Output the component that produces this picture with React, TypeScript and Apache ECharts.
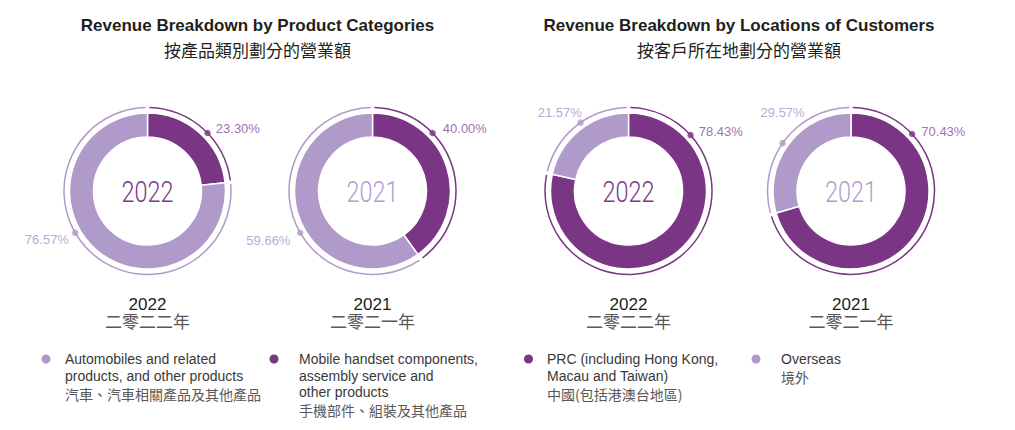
import React, { useEffect, useRef } from "react";
import * as echarts from "echarts";

// ---------- data ----------
const productCategories = [
  "Mobile handset components, assembly service and other products",
  "Automobiles and related products, and other products",
];
const productShare2022 = [23.3, 76.57];
const productShare2021 = [40.0, 59.66];

const locationCategories = ["PRC (including Hong Kong, Macau and Taiwan)", "Overseas"];
const locationShare2022 = [78.43, 21.57];
const locationShare2021 = [70.43, 29.57];

const yearLabels = ["2022", "2021"];
const yearLabelsZh = ["二零二二年", "二零二一年"];

const chartTitles = [
  "Revenue Breakdown by Product Categories",
  "Revenue Breakdown by Locations of Customers",
];
const chartTitlesZh = ["按產品類別劃分的營業額", "按客戶所在地劃分的營業額"];

const legendEnLines = [
  ["Automobiles and related", "products, and other products"],
  ["Mobile handset components,", "assembly service and", "other products"],
  ["PRC (including Hong Kong,", "Macau and Taiwan)"],
  ["Overseas"],
];
const legendZh = ["汽車、汽車相關產品及其他產品", "手機部件、組裝及其他產品", "中國(包括港澳台地區)", "境外"];

// ---------- layout / style ----------
const EN = "'Liberation Sans', Arial, Helvetica, sans-serif";
const ZH = "'Noto Sans CJK TC', 'Noto Sans CJK SC', sans-serif";
const DARK = "#7a3584";
const LIGHT = "#b09ac9";
const SEG_COLORS = [DARK, LIGHT];
const LABEL_COLORS = ["#87489a", "#a98fc8"];
const TEXT_DARK = "#231f20";
const TEXT_GREY = "#5a5758";

const CENTERS: [number, number][] = [
  [147.5, 191],
  [372.5, 191],
  [628.5, 191],
  [851, 191],
];
const R_INNER = 54;
const R_OUTER = 78;
const R_THIN = 83.5;

const donuts = [
  { shares: productShare2022, cats: productCategories, year: 0 },
  { shares: productShare2021, cats: productCategories, year: 1 },
  { shares: locationShare2022, cats: locationCategories, year: 0 },
  { shares: locationShare2021, cats: locationCategories, year: 1 },
];

// angle (deg, clockwise from 12 o'clock) where each percentage marker sits
const LABEL_ANCHORS = [
  [46, 240],
  [46, 240],
  [48, 325],
  [47, 305],
];
const LABEL_PLACES: any[][] = [
  [
    { position: "right", distance: 5, offset: [0, -4.5] },
    { position: "left", distance: 3, offset: [0, 7] },
  ],
  [
    { position: "right", distance: 7, offset: [0, -4] },
    { position: "left", distance: 6.5, offset: [0, 8] },
  ],
  [
    { position: "right", distance: 5, offset: [0, -3.5] },
    { position: "left", distance: 0, offset: [4.5, -10] },
  ],
  [
    { position: "right", distance: 6, offset: [0, -2.5] },
    { position: "inside", distance: 0, offset: [0, -30.4] },
  ],
];
const CENTER_YEAR_COLORS = ["#7b3889", "#b29dcf"];
const TITLE_X = [257.5, 739];
const LEGEND_POS = [
  { cx: 46, tx: 65, color: LIGHT },
  { cx: 274, tx: 299, color: DARK },
  { cx: 528.5, tx: 547, color: DARK },
  { cx: 756, tx: 781, color: LIGHT },
];

function buildOption() {
  const series: any[] = [];
  const polar: any[] = [];
  const angleAxis: any[] = [];
  const radiusAxis: any[] = [];
  const graphic: any[] = [];

  donuts.forEach((d, i) => {
    const center = CENTERS[i];
    const pieData = d.shares.map((v, k) => ({
      name: d.cats[k],
      value: v,
      itemStyle: { color: SEG_COLORS[k] },
    }));
    series.push({
      type: "pie",
      center,
      radius: [R_INNER, R_OUTER],
      startAngle: 90,
      clockwise: true,
      silent: true,
      label: { show: false },
      labelLine: { show: false },
      itemStyle: { borderColor: "#ffffff", borderWidth: 1.5 },
      emphasis: { disabled: true },
      data: pieData,
    });
    series.push({
      type: "pie",
      center,
      radius: [R_THIN - 0.75, R_THIN + 0.75],
      startAngle: 90,
      clockwise: true,
      padAngle: 2.5,
      silent: true,
      label: { show: false },
      labelLine: { show: false },
      emphasis: { disabled: true },
      data: pieData,
    });

    polar.push({ center, radius: R_THIN });
    angleAxis.push({
      type: "value",
      polarIndex: i,
      min: 0,
      max: 360,
      startAngle: 90,
      clockwise: true,
      show: false,
      axisLine: { show: false },
      axisTick: { show: false },
      axisLabel: { show: false },
      splitLine: { show: false },
    });
    radiusAxis.push({
      type: "value",
      polarIndex: i,
      min: 0,
      max: R_THIN,
      show: false,
      axisLine: { show: false },
      axisTick: { show: false },
      axisLabel: { show: false },
      splitLine: { show: false },
    });
    series.push({
      type: "scatter",
      coordinateSystem: "polar",
      polarIndex: i,
      symbol: "circle",
      symbolSize: 6.5,
      silent: true,
      emphasis: { disabled: true },
      data: d.shares.map((v, k) => ({
        value: [R_THIN, LABEL_ANCHORS[i][k]],
        itemStyle: { color: SEG_COLORS[k] },
        label: {
          show: true,
          formatter: v.toFixed(2) + "%",
          color: LABEL_COLORS[k],
          fontSize: 13,
          fontFamily: EN,
          ...LABEL_PLACES[i][k],
        },
      })),
    });

    // center year
    graphic.push({
      type: "text",
      x: center[0],
      y: center[1] + 1,
      scaleX: 0.78,
      silent: true,
      style: {
        text: yearLabels[d.year],
        fill: CENTER_YEAR_COLORS[d.year],
        font: `300 30px Roboto, 'Liberation Sans', sans-serif`,
        textAlign: "center",
        align: "center",
        textVerticalAlign: "middle",
        verticalAlign: "middle",
      },
    });
    // year caption below (two lines in one text)
    graphic.push({
      type: "text",
      x: center[0],
      y: 296.2,
      silent: true,
      style: {
        text: `{en|${yearLabels[d.year]}}\n{zh|${yearLabelsZh[d.year]}}`,
        textAlign: "center",
        align: "center",
        textVerticalAlign: "top",
        verticalAlign: "top",
        rich: {
          en: { fontSize: 17, fontFamily: EN, fill: TEXT_DARK, color: TEXT_DARK, lineHeight: 16.5, align: "center" },
          zh: { fontSize: 17, fontFamily: ZH, fill: TEXT_GREY, color: TEXT_GREY, lineHeight: 16.5, align: "center" },
        },
      },
    });
  });

  // titles
  chartTitles.forEach((t, i) => {
    graphic.push({
      type: "text",
      x: TITLE_X[i],
      y: 25,
      silent: true,
      style: {
        text: t,
        fill: TEXT_DARK,
        font: `bold 17px ${EN}`,
        textAlign: "center",
        align: "center",
        textVerticalAlign: "middle",
        verticalAlign: "middle",
      },
    });
    graphic.push({
      type: "text",
      x: TITLE_X[i],
      y: 49.5,
      silent: true,
      style: {
        text: chartTitlesZh[i],
        fill: TEXT_DARK,
        font: `17px ${ZH}`,
        textAlign: "center",
        align: "center",
        textVerticalAlign: "middle",
        verticalAlign: "middle",
      },
    });
  });

  // legends
  LEGEND_POS.forEach((p, i) => {
    graphic.push({
      type: "circle",
      silent: true,
      shape: { cx: p.cx, cy: 359, r: 4.5 },
      style: { fill: p.color },
    });
    const text =
      legendEnLines[i].map((l) => `{en|${l}}`).join("\n") + `\n{zh|${legendZh[i]}}`;
    graphic.push({
      type: "text",
      x: p.tx,
      y: 350.7,
      silent: true,
      style: {
        text,
        textAlign: "left",
        align: "left",
        textVerticalAlign: "top",
        verticalAlign: "top",
        rich: {
          en: { fontSize: 14, fontFamily: EN, fill: "#3a3839", color: "#3a3839", lineHeight: 16.7 },
          zh: { fontSize: 14, fontFamily: ZH, fill: TEXT_GREY, color: TEXT_GREY, lineHeight: 19 },
        },
      },
    });
  });

  return {
    animation: false,
    backgroundColor: "#ffffff",
    polar,
    angleAxis,
    radiusAxis,
    series,
    graphic,
  };
}

export default function App() {
  const ref = useRef<HTMLDivElement>(null);
  useEffect(() => {
    if (!ref.current) return;
    const chart = echarts.init(ref.current, null, { renderer: "svg" });
    chart.setOption(buildOption() as any);
    return () => chart.dispose();
  }, []);
  return (
    <div
      ref={ref}
      style={{ position: "absolute", left: 0, top: 0, width: 1015, height: 430, background: "#fff" }}
    />
  );
}
